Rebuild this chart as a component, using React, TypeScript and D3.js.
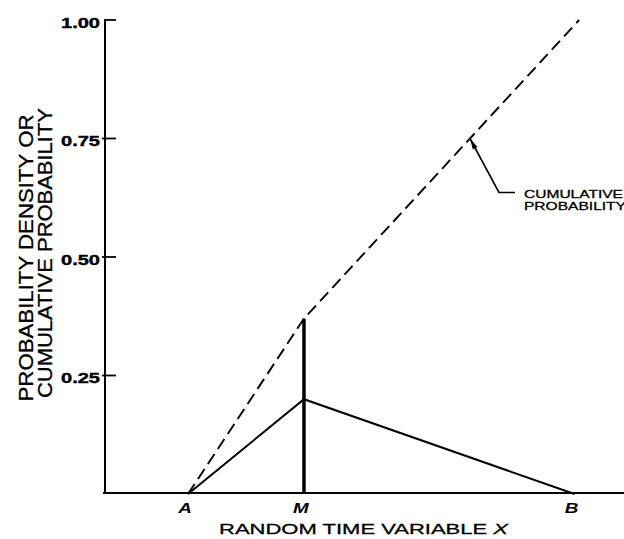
import React from "react";
import * as d3 from "d3";

// ---- data ----
const pointNames = ["A", "M", "B"];
const pointX = [1, 2.5, 6];
const densityValues = [0, 0.2, 0];
const cumulativeX = [1, 2.5, 6.06];
const cumulativeValues = [0, 0.37, 1.0];
const yTickValues = [0.25, 0.5, 0.75, 1.0];
const yTickLabels = ["0.25", "0.50", "0.75", "1.00"];
const calloutValue = 0.75;
const yTitleLines = ["PROBABILITY DENSITY OR", "CUMULATIVE PROBABILITY"];
const calloutLines = ["CUMULATIVE", "PROBABILITY"];

const W = 624;
const H = 539;
const FONT = "'Liberation Sans', Arial, Helvetica, sans-serif";

export default function App() {
  const x = d3.scaleLinear().domain([-0.074, 6.64]).range([105, 624]);
  const y = d3.scaleLinear().domain([0, 1]).range([494, 20]);

  const line = d3
    .line<[number, number]>()
    .x((d) => x(d[0]))
    .y((d) => y(d[1]));

  const density: [number, number][] = pointX.map((v, i) => [v, densityValues[i]]);
  const cumulative: [number, number][] = cumulativeX.map((v, i) => [v, cumulativeValues[i]]);

  const interp = d3.scaleLinear().domain(cumulativeValues.slice(1)).range(cumulativeX.slice(1));
  const tipX = x(interp(calloutValue));
  const tipY = y(calloutValue);
  const elbowX = tipX + 29;
  const elbowY = tipY + 54;
  const endX = elbowX + 16;
  const dx = tipX - elbowX;
  const dy = tipY - elbowY;
  const len = Math.hypot(dx, dy);
  const ux = dx / len;
  const uy = dy / len;
  const ah = 11;
  const aw = 2.6;
  const bx = tipX - ux * ah;
  const by = tipY - uy * ah;
  const arrow = `M${tipX},${tipY}L${bx - uy * aw},${by + ux * aw}L${bx + uy * aw},${by - ux * aw}Z`;

  const mX = x(pointX[1]);
  const baseY = y(0);

  return (
    <div style={{ position: "fixed", left: 0, top: 0, width: W, height: H, background: "#fff" }}>
      <svg width={W} height={H} style={{ display: "block" }}>
        <rect width={W} height={H} fill="#fff" />
        <line x1={105} x2={105} y1={y(1) - 1} y2={baseY} stroke="#000" strokeWidth={2} />
        <line x1={103} x2={W} y1={baseY - 1} y2={baseY - 1} stroke="#000" strokeWidth={2} />
        {yTickValues.map((v, i) => (
          <g key={v}>
            <line x1={v === 1 ? 104 : 102} x2={116} y1={y(v)} y2={y(v)} stroke="#000" strokeWidth={1.8} />
            <text
              x={61}
              y={y(v) + 7.5}
              fontFamily={FONT}
              fontWeight="bold"
              fontSize={15}
              textLength={39}
              lengthAdjust="spacingAndGlyphs"
              fill="#000"
              stroke="#000"
              strokeWidth={0.4}
            >
              {yTickLabels[i]}
            </text>
          </g>
        ))}
        {pointNames.map((n, i) => {
          const cx = x(pointX[i]) - 3;
          return (
            <text
              key={n}
              x={cx}
              y={513}
              textAnchor="middle"
              fontFamily={FONT}
              fontWeight="bold"
              fontStyle="italic"
              fontSize={14.5}
              fill="#000"
              transform={`translate(${cx},0) scale(1.3,1) translate(${-cx},0)`}
            >
              {n}
            </text>
          );
        })}
        <text
          x={219}
          y={534}
          fontFamily={FONT}
          fontSize={15.5}
          textLength={289}
          lengthAdjust="spacingAndGlyphs"
          fill="#000"
          stroke="#000"
          strokeWidth={0.3}
        >
          RANDOM TIME VARIABLE <tspan fontStyle="italic">X</tspan>
        </text>
        {yTitleLines.map((t, i) => {
          const bx0 = i === 0 ? 33 : 52;
          const cy = i === 0 ? 258 : 253;
          return (
            <text
              key={t}
              transform={`translate(${bx0},${cy}) rotate(-90)`}
              textAnchor="middle"
              fontFamily={FONT}
              fontSize={21}
              textLength={i === 0 ? 287 : 290}
              lengthAdjust="spacingAndGlyphs"
              fill="#000"
              stroke="#000"
              strokeWidth={0.3}
            >
              {t}
            </text>
          );
        })}
        <path d={line(density) || ""} fill="none" stroke="#000" strokeWidth={2} />
        <line x1={mX} x2={mX} y1={baseY} y2={y(cumulativeValues[1])} stroke="#000" strokeWidth={3.5} />
        <path d={line(cumulative) || ""} fill="none" stroke="#000" strokeWidth={1.9} strokeDasharray="12 6" />
        <path d={`M${tipX},${tipY}L${elbowX},${elbowY}L${endX},${elbowY}`} fill="none" stroke="#000" strokeWidth={1.6} />
        <path d={arrow} fill="#000" />
        {calloutLines.map((t, i) => (
          <text
            key={t}
            x={524}
            y={198 + i * 12}
            fontFamily={FONT}
            fontSize={11.5}
            textLength={i === 0 ? 99 : 102}
            lengthAdjust="spacingAndGlyphs"
            fill="#000"
            stroke="#000"
            strokeWidth={0.3}
          >
            {t}
          </text>
        ))}
      </svg>
    </div>
  );
}
